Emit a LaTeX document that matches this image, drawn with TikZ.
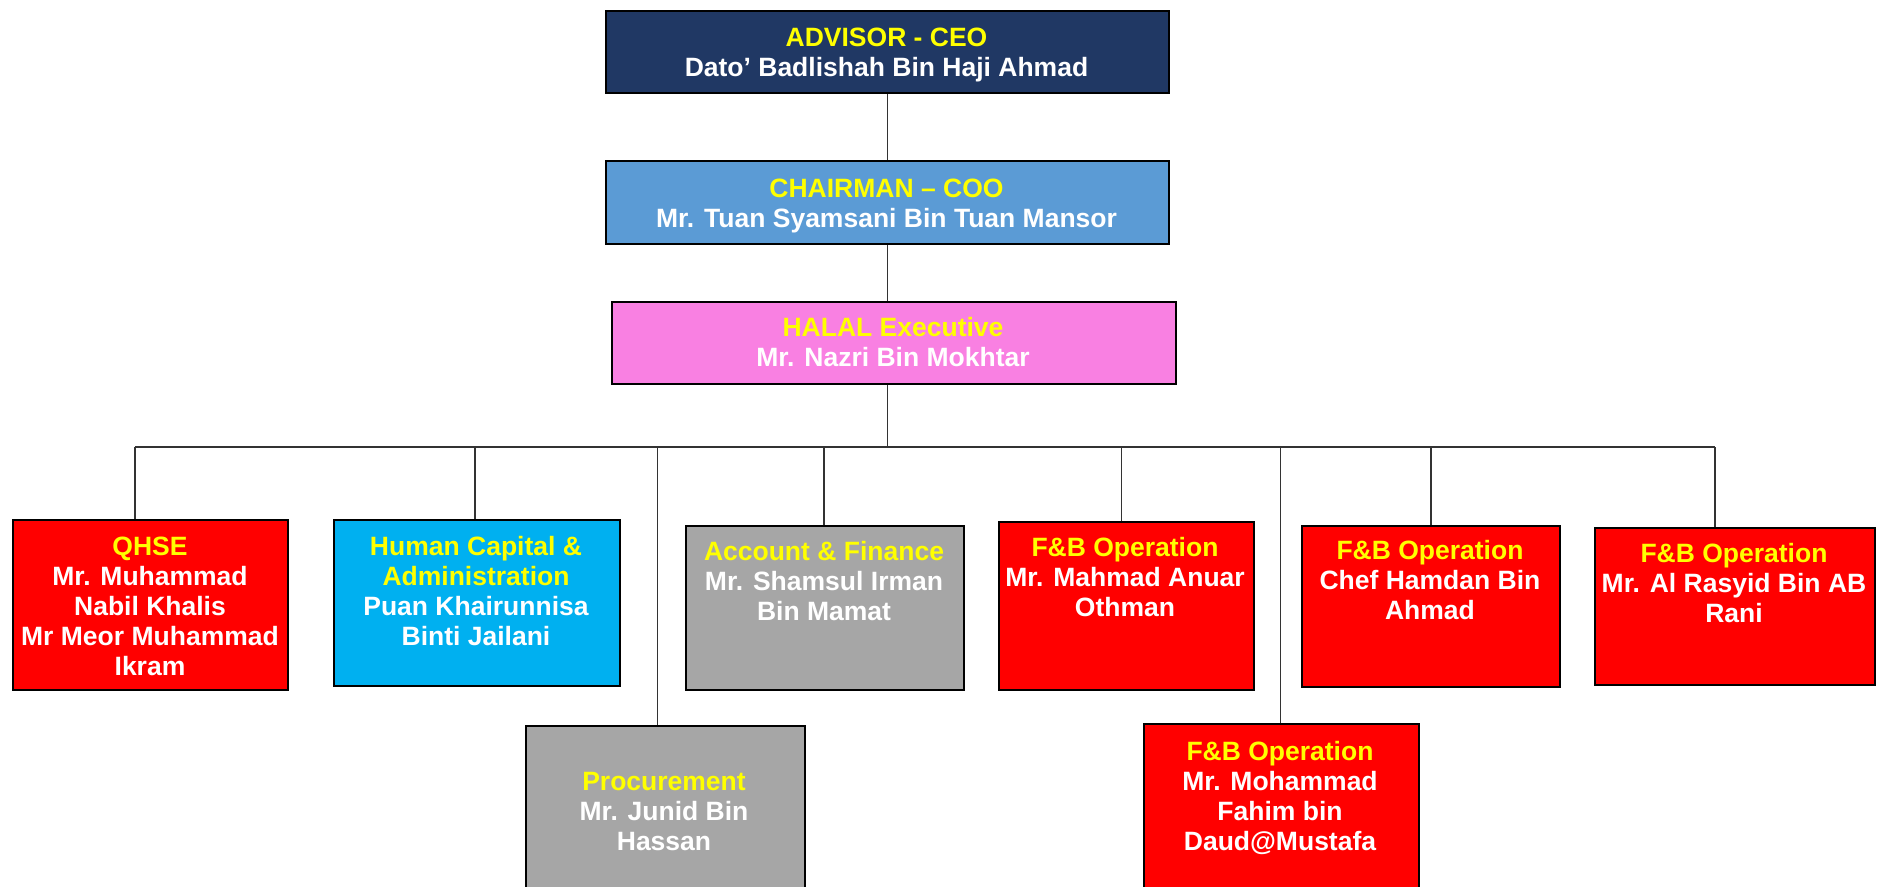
\documentclass[tikz,border=0pt]{standalone}
\usepackage{fontspec}
\setmainfont{Liberation Sans}
\definecolor{navy}{RGB}{32,56,100}
\definecolor{cooblue}{RGB}{91,155,213}
\definecolor{pinkx}{RGB}{249,128,226}
\definecolor{cyanx}{RGB}{0,176,240}
\definecolor{greyx}{RGB}{166,166,166}
\definecolor{redx}{RGB}{255,0,0}
\definecolor{ylw}{RGB}{255,255,0}
\newcommand\hd[1]{\textcolor{ylw}{#1}}
\begin{document}
\begin{tikzpicture}[x=1pt,y=-1pt,
  box/.style={draw=black, line width=1.8pt, inner sep=0pt, anchor=north west},
  txt/.style={anchor=north, inner sep=0pt, align=center, text=white,
    font=\fontsize{26.5}{30}\selectfont\bfseries},
  conn/.style={draw=black!80, line width=1.3pt}]
\useasboundingbox (0,0) rectangle (1878,886);
\clip (0,0) rectangle (1878,886);
\fill[white] (0,0) rectangle (1878,886);

% boxes
\node[box, fill=navy, minimum width=563pt, minimum height=82pt] (ceo) at (605,10) {};
\node[box, fill=cooblue, minimum width=563pt, minimum height=83pt] (coo) at (605,160) {};
\node[box, fill=pinkx, minimum width=564pt, minimum height=82pt] (halal) at (611,301) {};
\node[box, fill=redx, minimum width=275pt, minimum height=170pt] (qhse) at (12,519) {};
\node[box, fill=cyanx, minimum width=286pt, minimum height=166pt] (hca) at (333,519) {};
\node[box, fill=greyx, minimum width=278pt, minimum height=164pt] (acc) at (685,525) {};
\node[box, fill=redx, minimum width=255pt, minimum height=168pt] (fb1) at (998,521) {};
\node[box, fill=redx, minimum width=258pt, minimum height=161pt] (fb2) at (1301,525) {};
\node[box, fill=redx, minimum width=280pt, minimum height=157pt] (fb3) at (1594,527) {};
\node[box, fill=greyx, minimum width=279pt, minimum height=220pt] (proc) at (525,725) {};
\node[box, fill=redx, minimum width=275pt, minimum height=220pt] (fb4) at (1143,723) {};

% texts
\node[txt] (tceo) at (886.5,25.5) {\strut\hd{ADVISOR - CEO}\\Dato’ Badlishah Bin Haji Ahmad};
\node[txt] (tcoo) at (886.5,176.5) {\strut\hd{CHAIRMAN – COO}\\Mr. Tuan Syamsani Bin Tuan Mansor};
\node[txt] (thalal) at (893,315.5) {\strut\hd{HALAL Executive}\\Mr. Nazri Bin Mokhtar};
\node[txt] (tqhse) at (150,534.5) {\strut\hd{QHSE}\\Mr. Muhammad\\Nabil Khalis\\Mr Meor Muhammad\\Ikram};
\node[txt] (thca) at (476,534.5) {\strut\hd{Human Capital \&}\\\hd{Administration}\\Puan Khairunnisa\\Binti Jailani};
\node[txt] (tacc) at (824,539.5) {\strut\hd{Account \& Finance}\\Mr. Shamsul Irman\\Bin Mamat};
\node[txt] (tfb1) at (1125,535.5) {\strut\hd{F\&B Operation}\\Mr. Mahmad Anuar\\Othman};
\node[txt] (tfb2) at (1430,538.5) {\strut\hd{F\&B Operation}\\Chef Hamdan Bin\\Ahmad};
\node[txt] (tfb3) at (1734,541.5) {\strut\hd{F\&B Operation}\\Mr. Al Rasyid Bin AB\\Rani};
\node[txt] (tproc) at (664,769.5) {\strut\hd{Procurement}\\Mr. Junid Bin\\Hassan};
\node[txt] (tfb4) at (1280,739.5) {\strut\hd{F\&B Operation}\\Mr. Mohammad\\Fahim bin\\Daud@Mustafa};

% connectors
\coordinate (busL) at (135,447);
\coordinate (busR) at (1715,447);
\draw[conn] (ceo.south) -- (ceo.south |- coo.north);
\draw[conn] (coo.south) -- (coo.south |- halal.north);
\draw[conn] (ceo.south |- halal.south) -- (ceo.south |- busL);
\draw[conn] (busL) -- (busR);
\draw[conn] (busL) -- (busL |- qhse.north);
\draw[conn] ([xshift=-2pt]hca.north |- busL) -- ([xshift=-2pt]hca.north);
\draw[conn] ([xshift=-8pt]proc.north |- busL) -- ([xshift=-8pt]proc.north);
\draw[conn] ([xshift=-1pt]acc.north |- busL) -- ([xshift=-1pt]acc.north);
\draw[conn] ([xshift=-5pt]fb1.north |- busL) -- ([xshift=-5pt]fb1.north);
\draw[conn] ([xshift=-1pt]fb4.north |- busL) -- ([xshift=-1pt]fb4.north);
\draw[conn] (fb2.north |- busL) -- (fb2.north);
\draw[conn] (busR) -- (busR |- fb3.north);
\end{tikzpicture}
\end{document}
